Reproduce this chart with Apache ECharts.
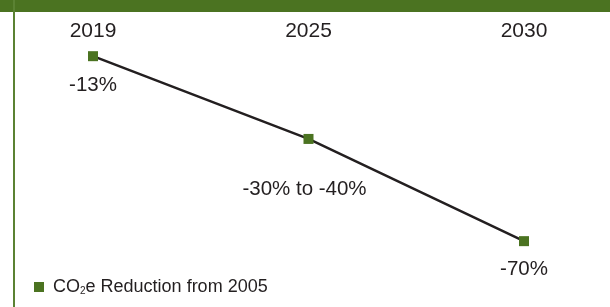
<!DOCTYPE html>
<html>
<head>
<meta charset="utf-8">
<script src="https://cdn.jsdelivr.net/npm/echarts@6/dist/echarts.min.js"></script>
<style>
html, body { margin: 0; padding: 0; background: #fff; }
#chart { width: 610px; height: 307px; }
</style>
</head>
<body>
<div id="chart"></div>
<script>
// chart data
const years = ['2019', '2025', '2030'];
const reduction = [-13, -38.5, -70];
const valueLabels = ['-13%', '-30% to -40%', '-70%'];
const seriesName = 'CO2e Reduction from 2005';

const green = '#4b7321';
const ink = '#231f20';
const font = '"Liberation Sans", Arial, sans-serif';
// label distance below each point
const labelGap = [14, 35, 13];
const labelShift = [0, -4, 0];

const myChart = echarts.init(document.getElementById('chart'));

const points = reduction.map((v, i) => ({
    value: v,
    label: {
        formatter: valueLabels[i],
        distance: labelGap[i],
        offset: [labelShift[i], 0]
    }
}));

const option = {
    animation: false,
    textStyle: { fontFamily: font },
    graphic: [
        { type: 'rect', shape: { x: 0, y: 0, width: 610, height: 12 }, style: { fill: green }, silent: true },
        { type: 'rect', shape: { x: 13, y: 0, width: 2, height: 307 }, style: { fill: '#5b8233' }, silent: true }
    ],
    legend: {
        left: 34,
        top: 278,
        padding: 0,
        icon: 'rect',
        itemWidth: 10,
        itemHeight: 10,
        data: [seriesName],
        formatter: function () {
            return 'CO{sub|2}e Reduction from 2005';
        },
        textStyle: {
            color: ink,
            fontFamily: font,
            fontSize: 18,
            padding: [0, 0, 0, 4],
            rich: {
                sub: { fontSize: 10, verticalAlign: 'bottom', padding: [9, 0, 0, 0], color: ink, fontFamily: font }
            }
        }
    },
    grid: [
        { left: 93, right: 86, top: 14, bottom: 33.4 },
        { left: 93, right: 86, top: 46, height: 1 }
    ],
    xAxis: [
        {
            type: 'category',
            gridIndex: 0,
            data: years,
            boundaryGap: false,
            show: false
        },
        {
            type: 'category',
            gridIndex: 1,
            position: 'top',
            data: years,
            boundaryGap: false,
            axisLine: { show: false },
            axisTick: { show: false },
            axisLabel: { color: ink, fontSize: 21, margin: 4, fontFamily: font }
        }
    ],
    yAxis: [
        { type: 'value', gridIndex: 0, min: -80, max: 0, show: false },
        { type: 'value', gridIndex: 1, show: false }
    ],
    series: [
        {
            name: seriesName,
            type: 'line',
            xAxisIndex: 0,
            yAxisIndex: 0,
            data: points,
            symbol: 'rect',
            symbolSize: 10,
            itemStyle: { color: green },
            lineStyle: { color: ink, width: 2.5 },
            label: {
                show: true,
                position: 'bottom',
                color: ink,
                fontSize: 20.5,
                fontFamily: font
            },
            z: 3
        }
    ]
};

myChart.setOption(option);
</script>
</body>
</html>
